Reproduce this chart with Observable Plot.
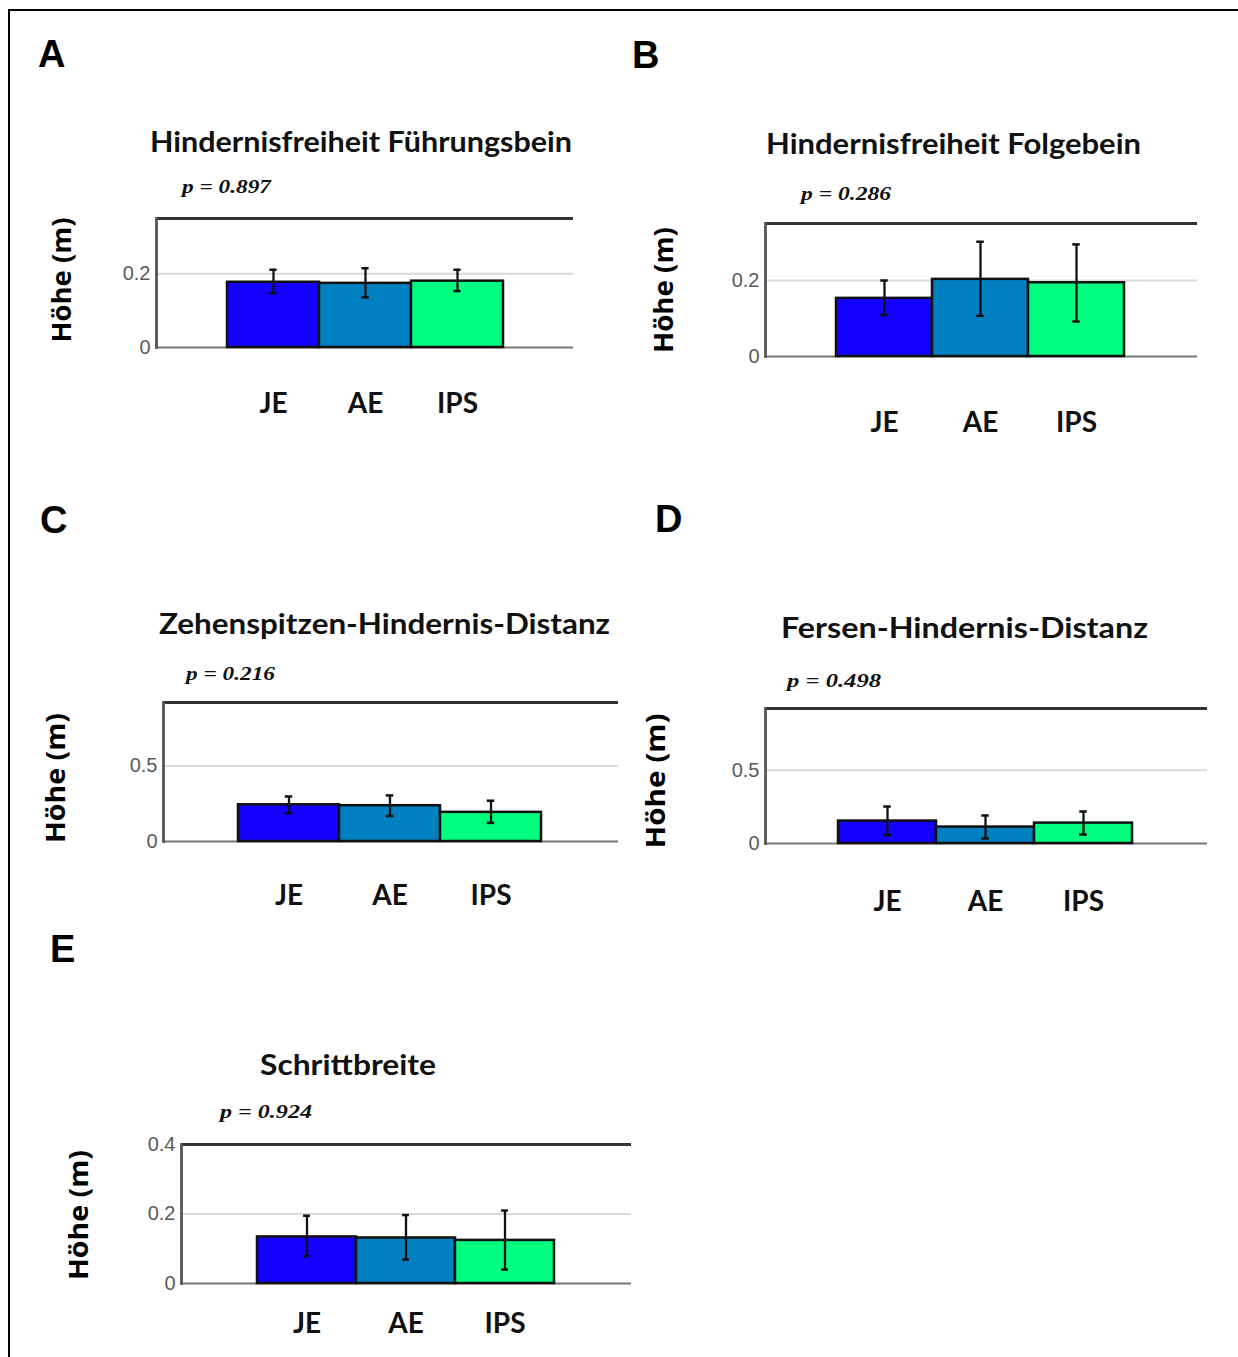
<!DOCTYPE html>
<html><head><meta charset="utf-8">
<script src="https://cdn.jsdelivr.net/npm/d3@7"></script>
<script src="https://cdn.jsdelivr.net/npm/@observablehq/plot@0.6"></script>
<style>
html,body{margin:0;padding:0;background:#fff;overflow:hidden}
#fig{position:relative;width:1238px;height:1357px;overflow:hidden;background:#fff}
#border{position:absolute;left:8px;top:9px;width:1300px;height:1400px;border-left:2px solid #000;border-top:2.5px solid #000}
.panel{position:absolute}
#ann{position:absolute;left:0;top:0;pointer-events:none}
</style></head><body><div id="fig"><div id="border"></div></div>
<script>
// ---------- data ----------
const groups = ["JE", "AE", "IPS"];
const groupColors = ["#1400ff", "#0080c0", "#00ff7f"];
const panelLetters = ["A", "B", "C", "D", "E"];
const panelTitles = [
  "Hindernisfreiheit Führungsbein",
  "Hindernisfreiheit Folgebein",
  "Zehenspitzen-Hindernis-Distanz",
  "Fersen-Hindernis-Distanz",
  "Schrittbreite"
];
const pValues = ["p = 0.897", "p = 0.286", "p = 0.216", "p = 0.498", "p = 0.924"];
const yAxisLabel = "Höhe (m)";
const yMax = [0.35, 0.35, 0.92, 0.92, 0.4];
const yTicks = [[0, 0.2], [0, 0.2], [0, 0.5], [0, 0.5], [0, 0.2, 0.4]];
const gridTicks = [[0.2], [0.2], [0.5], [0.5], [0.2]];
const means = [
  [0.177, 0.174, 0.180],
  [0.153, 0.203, 0.194],
  [0.243, 0.237, 0.193],
  [0.153, 0.112, 0.139],
  [0.134, 0.131, 0.124]
];
const lower = [
  [0.147, 0.136, 0.153],
  [0.109, 0.107, 0.092],
  [0.186, 0.169, 0.123],
  [0.056, 0.034, 0.061],
  [0.079, 0.069, 0.040]
];
const upper = [
  [0.211, 0.215, 0.211],
  [0.200, 0.302, 0.295],
  [0.298, 0.305, 0.270],
  [0.252, 0.191, 0.218],
  [0.195, 0.197, 0.210]
];

// ---------- layout (page pixels) ----------
const layout = [
  {frame: [156, 573, 218, 347], bars: [226, 503], xpad: 46, letter: [38, 67], title: [150, 152, 422], p: [182, 193, 89], ylab: [61, 280, 125]},
  {frame: [765, 1197, 223, 356], bars: [836, 1124], xpad: 56, letter: [632, 68], title: [766, 154, 375], p: [801, 200, 90], ylab: [663, 290, 126]},
  {frame: [163, 618, 702, 841], bars: [238, 541], xpad: 44, letter: [40, 533], title: [159, 634, 451], p: [186, 680, 89], ylab: [55, 778, 130]},
  {frame: [765, 1207, 708, 843], bars: [838, 1132], xpad: 48, letter: [655, 532], title: [781, 638, 367], p: [787, 687, 94], ylab: [655, 781, 135]},
  {frame: [181, 631, 1144, 1283], bars: [256, 555], xpad: 30, letter: [50, 962], title: [260, 1075, 176], p: [220, 1118, 92], ylab: [78, 1215, 130]}
];

const fig = document.getElementById("fig");

layout.forEach((L, i) => {
  const [fl, fr, ft, fb] = L.frame;
  const mL = 60, mR = 10, mT = 10, mB = L.xpad + 40;
  const svgLeft = fl - mL, svgTop = ft - mT;
  const width = mL + (fr - fl) + mR;
  const height = mT + (fb - ft) + mB;
  const rows = groups.map((g, j) => ({group: g, mean: means[i][j], lo: lower[i][j], hi: upper[i][j]}));
  const bw = (L.bars[1] - L.bars[0]) / groups.length;
  const capInset = (bw - 7.5) / 2;
  const chart = Plot.plot({
    width, height,
    marginLeft: mL, marginRight: mR, marginTop: mT, marginBottom: mB,
    style: {background: "transparent", overflow: "visible"},
    x: {type: "band", domain: groups, range: [L.bars[0] - svgLeft, L.bars[1] - svgLeft], padding: 0},
    y: {domain: [0, yMax[i]]},
    color: {domain: groups, range: groupColors},
    marks: [
      Plot.gridY(gridTicks[i], {stroke: "#d9d9d9", strokeOpacity: 1, strokeWidth: 2}),
      Plot.ruleY([0], {stroke: "#777", strokeWidth: 1.8}),
      Plot.ruleY([yMax[i]], {stroke: "#333", strokeWidth: 2.8}),
      Plot.frame({anchor: "left", stroke: "#555", strokeWidth: 2.8}),
      Plot.barY(rows, {x: "group", y: "mean", fill: "group", stroke: "#111", strokeWidth: 2.5}),
      Plot.ruleX(rows, {x: "group", y1: "lo", y2: "hi", stroke: "#111", strokeWidth: 2.3}),
      Plot.tickY(rows, {x: "group", y: "lo", stroke: "#111", strokeWidth: 2.5, insetLeft: capInset, insetRight: capInset}),
      Plot.tickY(rows, {x: "group", y: "hi", stroke: "#111", strokeWidth: 2.5, insetLeft: capInset, insetRight: capInset}),
      Plot.axisY(yTicks[i], {tickSize: 0, tickPadding: 6, tickFormat: d => String(d), fontSize: 20, fontFamily: "Liberation Sans, Arial, sans-serif", fill: "#5a5a5a", label: null}),
      Plot.axisX({tickSize: 0, tickPadding: L.xpad, fontSize: 28, fontWeight: "bold", fontFamily: "Lato, sans-serif", fill: "#111", label: null})
    ]
  });
  chart.classList.add("panel");
  chart.style.left = svgLeft + "px";
  chart.style.top = svgTop + "px";
  fig.appendChild(chart);
});

// ---------- annotations ----------
const NS = "http://www.w3.org/2000/svg";
const ann = document.createElementNS(NS, "svg");
ann.setAttribute("id", "ann");
ann.setAttribute("width", 1238);
ann.setAttribute("height", 1357);
function addText(txt, attrs) {
  const t = document.createElementNS(NS, "text");
  for (const k in attrs) t.setAttribute(k, attrs[k]);
  t.textContent = txt;
  ann.appendChild(t);
  return t;
}
layout.forEach((L, i) => {
  addText(panelLetters[i], {x: L.letter[0], y: L.letter[1], "font-family": "Liberation Sans, Arial, sans-serif", "font-weight": "bold", "font-size": 38, fill: "#000"});
  addText(panelTitles[i], {x: L.title[0], y: L.title[1], "font-family": "Lato, sans-serif", "font-weight": "bold", "font-size": 28, fill: "#111", textLength: L.title[2], lengthAdjust: "spacingAndGlyphs"});
  addText(pValues[i], {x: L.p[0], y: L.p[1], "font-family": "Liberation Serif, Times New Roman, serif", "font-weight": "bold", "font-style": "italic", "font-size": 19, fill: "#111", textLength: L.p[2], lengthAdjust: "spacingAndGlyphs"});
  addText(yAxisLabel, {transform: `translate(${L.ylab[0]},${L.ylab[1]}) rotate(-90)`, "text-anchor": "middle", dy: "0.36em", "font-family": "Open Sans, sans-serif", "font-weight": "bold", "font-size": 27, fill: "#000", textLength: L.ylab[2], lengthAdjust: "spacingAndGlyphs"});
});
fig.appendChild(ann);
</script>
</body></html>
